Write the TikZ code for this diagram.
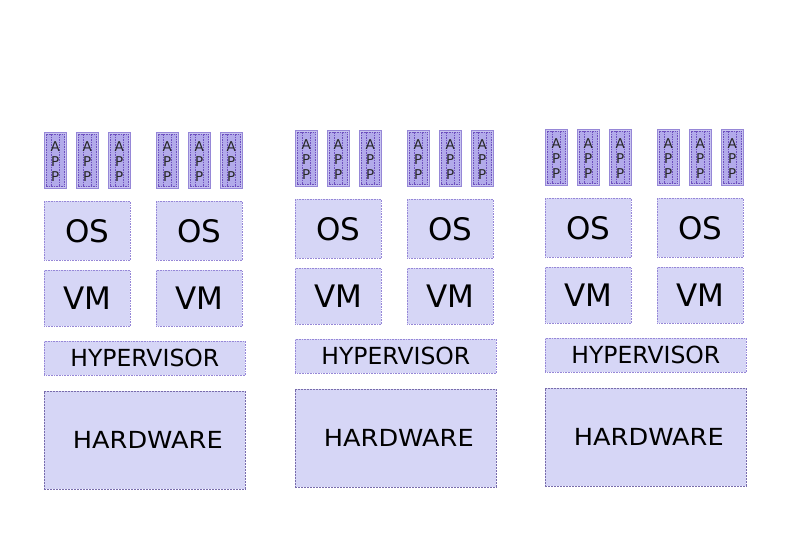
\documentclass[tikz,border=0pt]{standalone}
\usepackage{fontspec}
\usepackage{graphicx}
\setmainfont{DejaVu Sans}
\definecolor{boxfill}{RGB}{214,214,246}
\definecolor{boxline}{RGB}{150,135,215}
\definecolor{appfill}{RGB}{200,196,240}
\definecolor{appinner}{RGB}{178,170,234}
\definecolor{appline}{RGB}{110,80,190}
\begin{document}
\begin{tikzpicture}[x=1pt,y=-1pt,
  layer/.style={draw=boxline,fill=boxfill,line width=0.6pt,densely dotted,anchor=north west,inner sep=0pt,text=black},
  hwbox/.style={layer,dash pattern=on 2pt off 1pt,draw=boxline!80!black},
  appbox/.style={draw=boxline,fill=appfill,line width=0.5pt,anchor=north west,inner sep=0pt,minimum width=22pt,minimum height=56pt},
  appin/.style={draw=appline,fill=appinner,line width=0.5pt,dash pattern=on 1.5pt off 1pt},
  appline/.style={draw=appline,line width=0.5pt,dash pattern=on 1.5pt off 1pt},
  apptext/.style={font=\fontsize{13.5}{15}\selectfont,align=center,inner sep=0pt,text=black!85}
]
\useasboundingbox (0,0) rectangle (794,559);
\foreach \c/\dx/\dy in {1/0/0,2/251/-2,3/501/-3}{
  \begin{scope}[shift={(\dx,\dy)}]
  \foreach \k/\ax in {1/44,2/76,3/108,4/156,5/188,6/220}{
    \node[appbox] (app\c\k) at (\ax,132) {};
    \draw[appin] ([shift={(2,2)}]app\c\k.north west) rectangle ([shift={(-2,-2)}]app\c\k.south east);
    \draw[appline] ([shift={(7,2)}]app\c\k.north west) -- ([shift={(7,-2)}]app\c\k.south west);
    \draw[appline] ([shift={(-7,2)}]app\c\k.north east) -- ([shift={(-7,-2)}]app\c\k.south east);
    \node[apptext] (appt\c\k) at ([yshift=-1]app\c\k.center) {A\\P\\P};
  }
  \node[layer,minimum width=86pt,minimum height=59pt,font=\fontsize{31}{31}\selectfont] (osA\c) at (44,201) {OS};
  \node[layer,minimum width=86pt,minimum height=59pt,font=\fontsize{31}{31}\selectfont] (osB\c) at (156,201) {OS};
  \node[layer,minimum width=86pt,minimum height=56pt,font=\fontsize{31}{31}\selectfont] (vmA\c) at (44,270) {VM};
  \node[layer,minimum width=86pt,minimum height=56pt,font=\fontsize{31}{31}\selectfont] (vmB\c) at (156,270) {VM};
  \node[layer,minimum width=201pt,minimum height=34pt,font=\fontsize{23.5}{23.5}\selectfont] (hyp\c) at (44,341) {HYPERVISOR};
  \node[hwbox,minimum width=201pt,minimum height=98pt,font=\fontsize{23.5}{23.5}\selectfont] (hw\c) at (44,391) {\hspace{6pt}\scalebox{1.09}[1]{HARDWARE}};
  \end{scope}
}
\end{tikzpicture}
\end{document}
